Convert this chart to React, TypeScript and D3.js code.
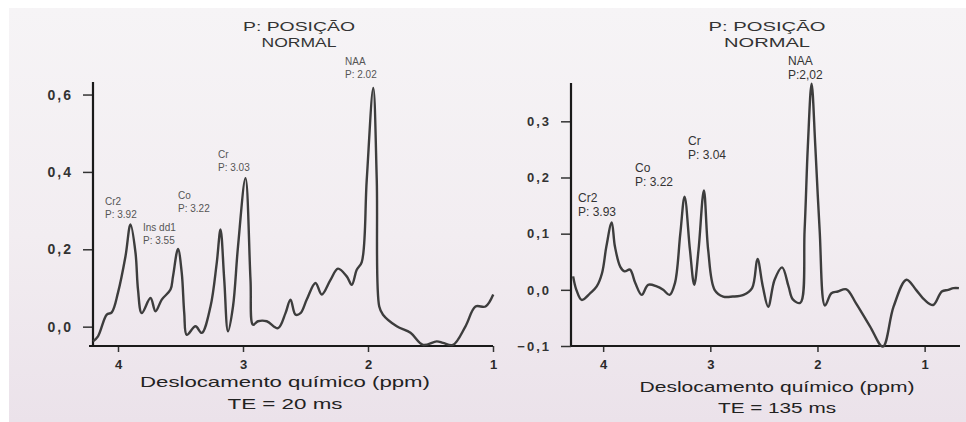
import React, { useEffect, useRef } from 'react'
import * as d3 from 'd3'

// TE = 20 ms spectrum (ppm, intensity)
const leftPpm = [4.2, 4.16, 4.09, 4.05, 4.0, 3.94, 3.9, 3.86, 3.84, 3.81, 3.74, 3.7, 3.65, 3.58, 3.56, 3.52, 3.49, 3.47, 3.45, 3.38, 3.33, 3.26, 3.21, 3.18, 3.15, 3.12, 3.08, 3.04, 2.98, 2.94, 2.92, 2.88, 2.81, 2.72, 2.66, 2.62, 2.58, 2.54, 2.49, 2.42, 2.37, 2.3, 2.24, 2.17, 2.13, 2.09, 2.05, 2.01, 1.958, 1.93, 1.91, 1.88, 1.77, 1.66, 1.56, 1.45, 1.4, 1.32, 1.22, 1.14, 1.06, 0.998]
const leftIntensity = [-0.038, -0.025, 0.031, 0.037, 0.088, 0.182, 0.264, 0.191, 0.096, 0.035, 0.074, 0.04, 0.07, 0.096, 0.13, 0.201, 0.139, 0.035, -0.021, 0.001, -0.016, 0.052, 0.165, 0.251, 0.121, -0.012, 0.052, 0.207, 0.384, 0.121, 0.005, 0.014, 0.014, -0.004, 0.035, 0.07, 0.031, 0.035, 0.07, 0.113, 0.083, 0.121, 0.15, 0.13, 0.108, 0.147, 0.167, 0.38, 0.617, 0.38, 0.052, 0.031, 0.001, -0.016, -0.047, -0.038, -0.042, -0.047, 0.001, 0.052, 0.052, 0.083]

// TE = 135 ms spectrum
const rightPpm = [4.28, 4.25, 4.2, 4.12, 4.06, 4.01, 3.97, 3.92, 3.89, 3.84, 3.8, 3.75, 3.7, 3.64, 3.58, 3.5, 3.44, 3.38, 3.33, 3.28, 3.24, 3.19, 3.15, 3.11, 3.06, 3.02, 2.96, 2.88, 2.79, 2.69, 2.61, 2.56, 2.51, 2.46, 2.4, 2.33, 2.27, 2.23, 2.16, 2.12, 2.09, 2.055, 2.02, 1.98, 1.93, 1.87, 1.81, 1.73, 1.64, 1.51, 1.39, 1.29, 1.17, 1.08, 1.0, 0.92, 0.84, 0.78, 0.73, 0.68]
const rightIntensity = [0.024, 0.0, -0.018, -0.006, 0.006, 0.03, 0.077, 0.12, 0.077, 0.041, 0.033, 0.036, 0.012, -0.009, 0.009, 0.006, 0.0, -0.009, 0.012, 0.1, 0.166, 0.071, 0.009, 0.071, 0.177, 0.071, 0.0, -0.012, -0.012, -0.009, 0.003, 0.055, 0.006, -0.03, 0.018, 0.04, 0.006, -0.017, -0.023, 0.107, 0.255, 0.367, 0.255, 0.107, -0.028, -0.006, -0.003, 0.001, -0.024, -0.065, -0.101, -0.03, 0.018, 0.0, -0.018, -0.027, -0.003, 0.0, 0.003, 0.003]

const xTicks = [4, 3, 2, 1]
const leftYTicks = [0, 0.2, 0.4, 0.6]
const rightYTicks = [-0.1, 0, 0.1, 0.2, 0.3]

const leftPeakNames = ['Cr2', 'Ins dd1', 'Co', 'Cr', 'NAA']
const leftPeakPos = ['P: 3.92', 'P: 3.55', 'P: 3.22', 'P: 3.03', 'P: 2.02']
const rightPeakNames = ['Cr2', 'Co', 'Cr', 'NAA']
const rightPeakPos = ['P: 3.93', 'P: 3.22', 'P: 3.04', 'P:2,02']

const titleLines = ['P: POSIÇÃO', 'NORMAL']
const axisTitle = 'Deslocamento químico (ppm)'

const panels = [
  {
    ppm: leftPpm, val: leftIntensity, yTicks: leftYTicks,
    xDomain: [4.2, 1.0], xRange: [93, 493], yDomain: [-0.05, 0.635], yRange: [346, 81],
    xLineStart: 89, xLineEnd: 493, yTop: 82,
    names: leftPeakNames, pos: leftPeakPos,
    labelXY: [[105, 205], [143, 231], [178, 199], [218, 158], [345, 65]],
    labelSize: 10, labelGap: 12.5, labelColor: '#555',
    title: { x: 299, w1: 112, w2: 75 },
    axisTitle: { x: 285, y: 387, w: 290 },
    te: { text: 'TE = 20 ms', y: 409, w: 115 },
    tickTextSize: 14,
  },
  {
    ppm: rightPpm, val: rightIntensity, yTicks: rightYTicks,
    xDomain: [4.3, 0.67], xRange: [571, 960], yDomain: [-0.1, 0.37], yRange: [346, 82],
    xLineStart: 571, xLineEnd: 960, yTop: 83,
    names: rightPeakNames, pos: rightPeakPos,
    labelXY: [[578, 202], [635, 172], [688, 145], [788, 65]],
    labelSize: 12, labelGap: 14, labelColor: '#333',
    title: { x: 767, w1: 117, w2: 86 },
    axisTitle: { x: 777, y: 392, w: 275 },
    te: { text: 'TE = 135 ms', y: 413, w: 118 },
    tickTextSize: 13,
  },
]

const FONT = '"Liberation Sans", Arial, Helvetica, sans-serif'

function App() {
  const ref = useRef<SVGSVGElement>(null)

  useEffect(() => {
    const svg = d3.select(ref.current)
    svg.selectAll('*').remove()

    const defs = svg.append('defs')
    const grad = defs.append('linearGradient').attr('id', 'paper')
      .attr('x1', 0).attr('y1', 0).attr('x2', 0).attr('y2', 1)
    grad.append('stop').attr('offset', '0%').attr('stop-color', '#f6f4f6')
    grad.append('stop').attr('offset', '55%').attr('stop-color', '#f2edf1')
    grad.append('stop').attr('offset', '100%').attr('stop-color', '#ebe2ea')

    svg.append('rect').attr('width', 966).attr('height', 422).attr('fill', '#ffffff')
    svg.append('rect').attr('x', 9).attr('y', 8).attr('width', 957).attr('height', 414)
      .attr('fill', 'url(#paper)')

    panels.forEach((p) => {
      const x = d3.scaleLinear().domain(p.xDomain).range(p.xRange)
      const y = d3.scaleLinear().domain(p.yDomain).range(p.yRange)
      const g = svg.append('g')

      // title
      titleLines.forEach((t, i) => {
        g.append('text')
          .attr('x', p.title.x).attr('y', 31 + i * 16)
          .attr('text-anchor', 'middle')
          .attr('font-family', FONT).attr('font-size', 13)
          .attr('fill', '#333')
          .attr('textLength', i === 0 ? p.title.w1 : p.title.w2)
          .attr('lengthAdjust', 'spacingAndGlyphs')
          .text(t)
      })

      // y axis
      const yAxis = d3.axisLeft(y)
        .tickValues(p.yTicks)
        .tickSize(10)
        .tickPadding(10)
        .tickFormat((d) => {
          const v = +d
          const s = Math.abs(v).toFixed(1).replace('.', ',')
          return v < 0 ? '\u2212' + s : s
        })
      const ya = g.append('g').attr('transform', `translate(${p.xRange[0]},0)`).call(yAxis)
      ya.select('.domain').remove()
      ya.selectAll('line').attr('stroke', '#333').attr('stroke-width', 1.5)
      ya.selectAll('text')
        .attr('font-family', FONT).attr('font-size', p.tickTextSize)
        .attr('font-weight', 'bold').attr('fill', '#333')
        .attr('letter-spacing', 2)

      g.append('line')
        .attr('x1', p.xRange[0]).attr('x2', p.xRange[0])
        .attr('y1', p.yRange[0]).attr('y2', p.yTop)
        .attr('stroke', '#1a1a1a').attr('stroke-width', 2.2)

      // x axis
      const xAxis = d3.axisBottom(x).tickValues(xTicks).tickSize(6).tickPadding(8)
        .tickFormat(d3.format('d'))
      const xa = g.append('g').attr('transform', `translate(0,${p.yRange[0]})`).call(xAxis)
      xa.select('.domain').remove()
      xa.selectAll('line').attr('stroke', '#333').attr('stroke-width', 1.5)
      xa.selectAll('text')
        .attr('font-family', FONT).attr('font-size', 13)
        .attr('font-weight', 'bold').attr('fill', '#2a2a2a')

      g.append('line')
        .attr('x1', p.xLineStart).attr('x2', p.xLineEnd)
        .attr('y1', p.yRange[0]).attr('y2', p.yRange[0])
        .attr('stroke', '#1a1a1a').attr('stroke-width', 2.2)

      // spectrum
      const pts: [number, number][] = p.ppm.map((d, i) => [d, p.val[i]])
      const line = d3.line<[number, number]>()
        .x((d) => x(d[0]))
        .y((d) => y(d[1]))
        .curve(d3.curveCatmullRom.alpha(0.5))
      g.append('path')
        .attr('d', line(pts))
        .attr('fill', 'none')
        .attr('stroke', '#3d3d3d')
        .attr('stroke-width', 2.4)
        .attr('stroke-linejoin', 'round')

      // peak labels
      p.names.forEach((n, i) => {
        const [lx, ly] = p.labelXY[i]
        g.append('text').attr('x', lx).attr('y', ly)
          .attr('font-family', FONT).attr('font-size', p.labelSize)
          .attr('fill', p.labelColor).text(n)
        g.append('text').attr('x', lx).attr('y', ly + p.labelGap)
          .attr('font-family', FONT).attr('font-size', p.labelSize)
          .attr('fill', p.labelColor).text(p.pos[i])
      })

      // axis title and TE
      g.append('text')
        .attr('x', p.axisTitle.x).attr('y', p.axisTitle.y)
        .attr('text-anchor', 'middle')
        .attr('font-family', FONT).attr('font-size', 15)
        .attr('fill', '#222')
        .attr('textLength', p.axisTitle.w).attr('lengthAdjust', 'spacingAndGlyphs')
        .text(axisTitle)
      g.append('text')
        .attr('x', p.axisTitle.x).attr('y', p.te.y)
        .attr('text-anchor', 'middle')
        .attr('font-family', FONT).attr('font-size', 15)
        .attr('fill', '#222')
        .attr('textLength', p.te.w).attr('lengthAdjust', 'spacingAndGlyphs')
        .text(p.te.text)
    })
  }, [])

  return (
    <svg
      ref={ref}
      width={966}
      height={422}
      style={{ position: 'absolute', left: 0, top: 0, display: 'block' }}
    />
  )
}

export default App
